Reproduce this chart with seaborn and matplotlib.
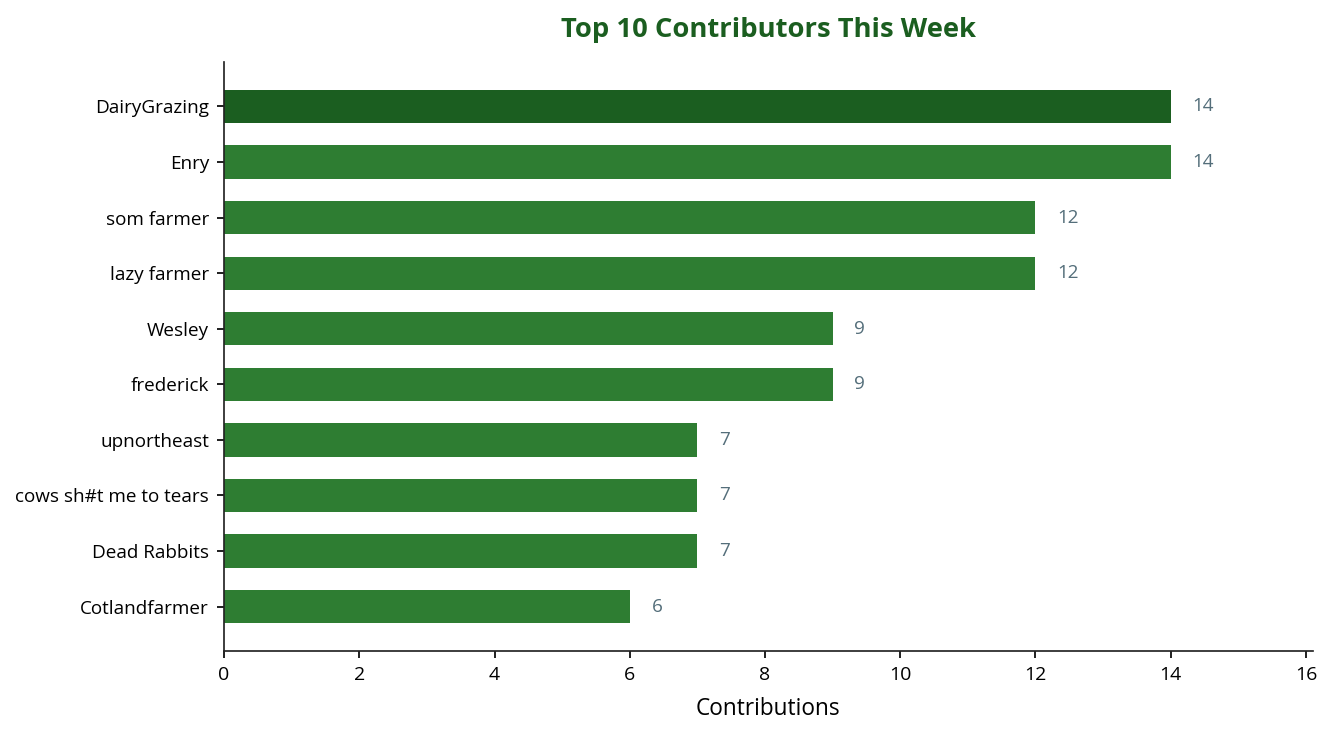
import pandas as pd
import matplotlib
matplotlib.use("Agg")
import matplotlib.pyplot as plt
import seaborn as sns

names = ["DairyGrazing", "Enry", "som farmer", "lazy farmer", "Wesley",
         "frederick", "upnortheast", "cows sh#t me to tears", "Dead Rabbits",
         "Cotlandfarmer"]
contributions = [14, 14, 12, 12, 9, 9, 7, 7, 7, 6]

df = pd.DataFrame({"name": names, "contributions": contributions})
bar_colors = ["#1b5e20"] + ["#2e7d32"] * (len(names) - 1)

sns.set_style("ticks")
plt.rcParams["font.family"] = ["Open Sans", "Noto Sans", "DejaVu Sans"]
plt.rcParams["text.color"] = "black"
plt.rcParams["axes.labelcolor"] = "black"
plt.rcParams["xtick.color"] = "black"
plt.rcParams["ytick.color"] = "black"
plt.rcParams["axes.edgecolor"] = "#222222"

DPI = 136
fig = plt.figure(figsize=(1334 / DPI, 735 / DPI), dpi=DPI)
ax = fig.add_axes([0.168, 0.1143, 0.816, 0.8013])

sns.barplot(data=df, x="contributions", y="name", hue="name",
            palette=bar_colors, legend=False, width=0.6, ax=ax,
            saturation=1, linewidth=0)

# value labels next to the bars
for i, v in enumerate(contributions):
    ax.text(v + 0.32, i, str(v), va="center", ha="left",
            fontsize=10, color="#546e7a")

ax.set_xlim(0, 16.1)
ax.set_ylim(len(names) - 0.2, -0.8)
ax.set_xticks(range(0, 17, 2))
ax.set_xlabel("Contributions", fontsize=12, labelpad=7)
ax.set_ylabel("")
ax.set_title("Top 10 Contributors This Week", fontsize=14.5, fontweight="bold",
             color="#1b5e20", pad=13)
ax.tick_params(axis="x", labelsize=10.3, length=3.5, width=0.9, pad=4.5)
ax.tick_params(axis="y", labelsize=10, length=3.5, width=0.9, pad=4.5)
for s in ax.spines.values():
    s.set_linewidth(0.9)
sns.despine(ax=ax)

plt.savefig("out.png", dpi=DPI)
